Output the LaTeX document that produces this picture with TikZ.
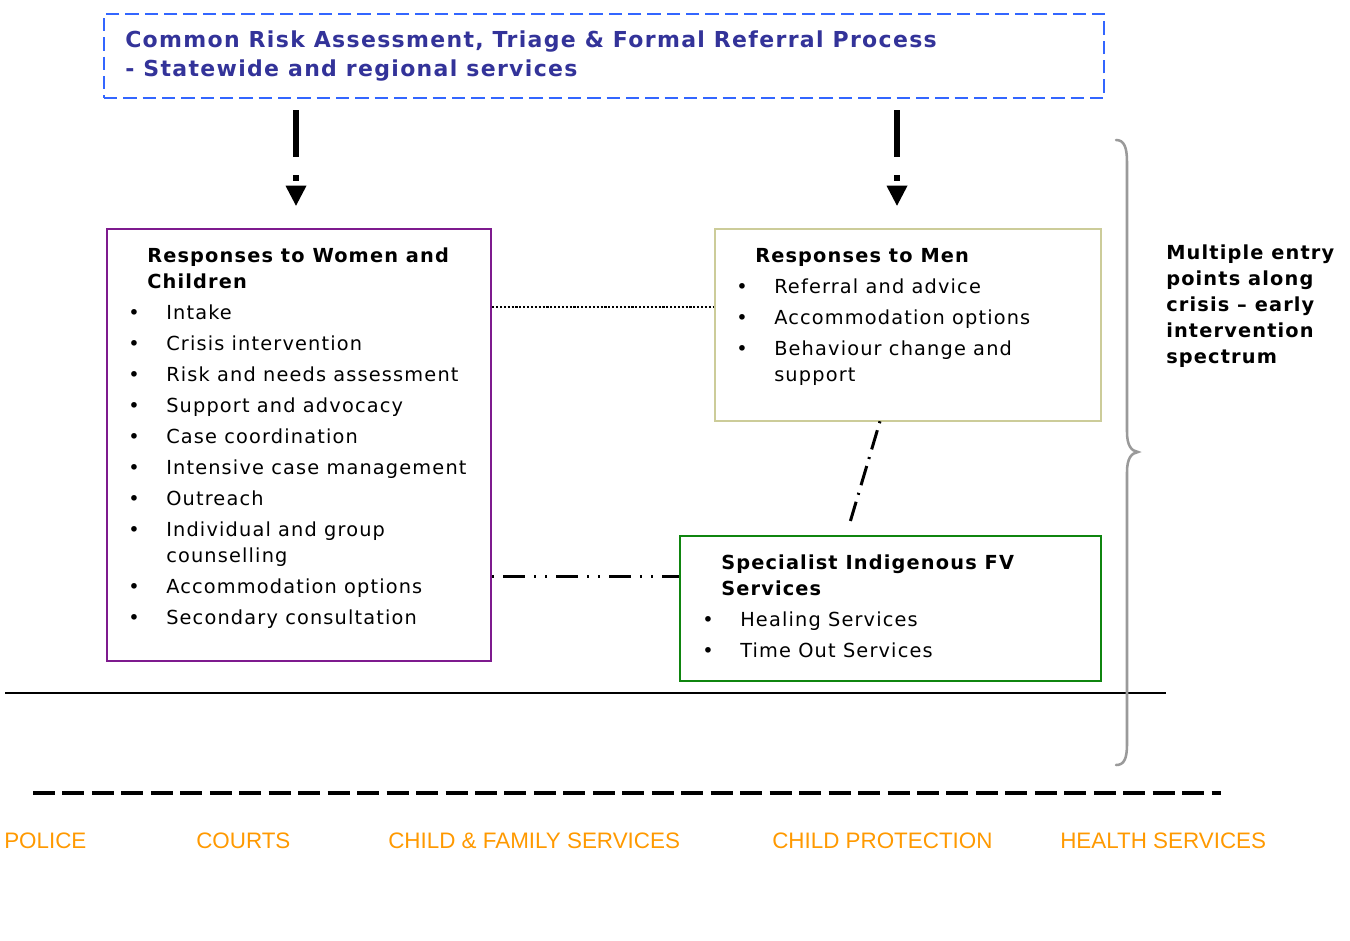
\documentclass[tikz,border=0pt]{standalone}
\usepackage{fontspec}
\setmainfont{DejaVu Sans}[LetterSpace=6]
\newfontfamily\labelfont{Liberation Sans}
\usetikzlibrary{arrows.meta,calc}

\definecolor{titleblue}{HTML}{333399}
\definecolor{frameblue}{HTML}{3366FF}
\definecolor{wcpurple}{HTML}{7E1A8E}
\definecolor{menkhaki}{HTML}{CCCC99}
\definecolor{fvgreen}{HTML}{0F850F}
\definecolor{sectororange}{HTML}{FF9900}
\definecolor{bracegray}{HTML}{9A9A9A}

\newcommand\bodysize{\fontsize{14.5}{19.5}\selectfont}
\newcommand\bitem{\makebox[28.5pt][l]{\textbullet}}
\newcommand\tindent{\hspace*{14.25pt}}
\newcommand\cindent{\hspace*{28.5pt}}

\begin{document}
\begin{tikzpicture}[x=0.75pt,y=-0.75pt,
  servicebox/.style={draw=#1, line width=1.9pt, inner sep=0pt},
  txt/.style={anchor=base west, inner sep=0pt},
  flowarrow/.style={line width=4.5pt,
    dash pattern=on 35.25pt off 13.5pt on 4.5pt off 60pt,
    -{Triangle[width=15.75pt,length=15pt,line width=0pt]}},
  sector/.style={anchor=base west, inner sep=0pt, text=sectororange,
    font=\labelfont\fontsize{16.8}{19}\selectfont}]

\path[use as bounding box] (0,0) rectangle (1350,940);

% referral process frame
\node[draw=frameblue, line width=2pt, dash pattern=on 10pt off 4.5pt,
  minimum width=750pt, minimum height=63pt, inner sep=0pt] (top) at (604,56) {};
\node[txt, text=titleblue] (toptext) at (125,47)
  {\parbox[t]{760pt}{\fontsize{16.5}{21.75}\selectfont\bfseries
   Common Risk Assessment, Triage \& Formal Referral Process\\
   - Statewide and regional services}};

% service boxes
\node[servicebox=wcpurple, minimum width=288pt, minimum height=324pt] (wc) at (299,445) {};
\node[servicebox=menkhaki, minimum width=289.5pt, minimum height=144pt] (men) at (908,325) {};
\node[servicebox=fvgreen, minimum width=315.75pt, minimum height=108.75pt] (ifv) at (890.5,608.5) {};

\node[txt] (wctext) at (128,262) {\parbox[t]{300pt}{\bodysize
  \tindent\textbf{Responses to Women and}\\
  \tindent\textbf{Children}\\[3.75pt]
  \bitem Intake\\[3.75pt]
  \bitem Crisis intervention\\[3.75pt]
  \bitem Risk and needs assessment\\[3.75pt]
  \bitem Support and advocacy\\[3.75pt]
  \bitem Case coordination\\[3.75pt]
  \bitem Intensive case management\\[3.75pt]
  \bitem Outreach\\[3.75pt]
  \bitem Individual and group\\
  \cindent counselling\\[3.75pt]
  \bitem Accommodation options\\[3.75pt]
  \bitem Secondary consultation}};

\node[txt] (mentext) at (736,262) {\parbox[t]{300pt}{\bodysize
  \tindent\textbf{Responses to Men}\\[3.75pt]
  \bitem Referral and advice\\[3.75pt]
  \bitem Accommodation options\\[3.75pt]
  \bitem Behaviour change and\\
  \cindent support}};

\node[txt] (ifvtext) at (702,569) {\parbox[t]{320pt}{\bodysize
  \tindent\textbf{Specialist Indigenous FV}\\
  \tindent\textbf{Services}\\[3.75pt]
  \bitem Healing Services\\[3.75pt]
  \bitem Time Out Services}};

% flow from the referral process to both responses
\coordinate (ax1) at (296,0);
\coordinate (ax2) at (897,0);
\draw[flowarrow] ($(top.south -| ax1)+(0,11)$) -- ($(wc.north -| ax1)+(0,-22)$);
\draw[flowarrow] ($(top.south -| ax2)+(0,11)$) -- ($(men.north -| ax2)+(0,-22)$);

% links between the service boxes
\coordinate (dotrow) at (0,307);
\coordinate (ddrow) at (0,576);
\draw[line width=1.9pt, dash pattern=on 1.6pt off 1.3pt]
  (wc.east |- dotrow) -- (men.west |- dotrow);
\draw[line width=2.25pt,
  dash pattern=on 1.5pt off 6.75pt on 16.5pt off 6.75pt on 1.5pt off 6.75pt]
  (wc.east |- ddrow) -- (ifv.west |- ddrow);
\draw[line width=2.25pt, dash pattern=on 1.5pt off 5.5pt on 15pt off 6pt]
  ($(men.south)+(-28,-1)$) -- ($(ifv.north)+(-41.5,-9)$);

% baseline and sector divider
\coordinate (hl1) at (5,693);
\coordinate (hl2) at (1166,693);
\draw[line width=1.5pt] (hl1) -- (hl2);
\coordinate (dl1) at (33,793);
\coordinate (dl2) at (1221,793);
\draw[line width=3pt, dash pattern=on 16.5pt off 5.6pt] (dl1) -- (dl2);

% entry-point brace
\draw[bracegray, line width=1.9pt, line cap=round]
  (1116,140) .. controls (1124,140) and (1127,147) .. (1127,162)
  -- (1127,432) .. controls (1127,445) and (1131,451) .. (1138,452)
  .. controls (1131,453) and (1127,459) .. (1127,472)
  -- (1127,744) .. controls (1127,759) and (1124,765) .. (1116,765);
\node[txt] (entry) at (1166,259) {\parbox[t]{140pt}{\bodysize\bfseries
  Multiple entry\\ points along\\ crisis -- early\\ intervention\\ spectrum}};

% sectors
\node[sector] (police) at (4,848) {POLICE};
\node[sector] (courts) at (196,848) {COURTS};
\node[sector] (cfs) at (388,848) {CHILD \& FAMILY SERVICES};
\node[sector] (cp) at (772,848) {CHILD PROTECTION};
\node[sector] (health) at (1060,848) {HEALTH SERVICES};
\end{tikzpicture}
\end{document}
